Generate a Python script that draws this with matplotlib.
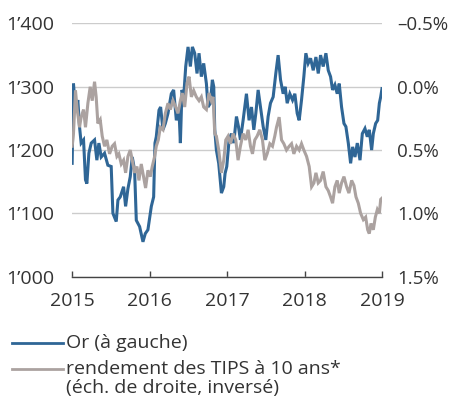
import matplotlib.pyplot as plt
from matplotlib.lines import Line2D
from matplotlib.ticker import FuncFormatter

# Gold price (USD/oz), left axis
gold_t = [2015.000, 2015.017, 2015.043, 2015.073, 2015.095, 2015.116, 2015.147, 2015.172,
          2015.190, 2015.216, 2015.246, 2015.289, 2015.319, 2015.345, 2015.375, 2015.418,
          2015.461, 2015.504, 2015.526, 2015.569, 2015.591, 2015.621, 2015.664, 2015.690,
          2015.720, 2015.750, 2015.776, 2015.806, 2015.828, 2015.871, 2015.914, 2015.944,
          2015.978, 2016.022, 2016.052, 2016.069, 2016.086, 2016.121, 2016.142, 2016.172,
          2016.203, 2016.237, 2016.280, 2016.310, 2016.345, 2016.379, 2016.397, 2016.418,
          2016.440, 2016.466, 2016.496, 2016.526, 2016.552, 2016.582, 2016.612, 2016.638,
          2016.668, 2016.698, 2016.733, 2016.754, 2016.784, 2016.810, 2016.828, 2016.841,
          2016.862, 2016.892, 2016.927, 2016.957, 2016.974, 2016.996, 2017.026, 2017.056,
          2017.086, 2017.121, 2017.147, 2017.172, 2017.207, 2017.250, 2017.284, 2017.315,
          2017.345, 2017.371, 2017.401, 2017.431, 2017.466, 2017.500, 2017.530, 2017.560,
          2017.595, 2017.629, 2017.659, 2017.690, 2017.724, 2017.750, 2017.776, 2017.810,
          2017.845, 2017.875, 2017.905, 2017.931, 2017.961, 2017.991, 2018.017, 2018.047,
          2018.078, 2018.112, 2018.147, 2018.177, 2018.207, 2018.241, 2018.276, 2018.306,
          2018.336, 2018.362, 2018.392, 2018.422, 2018.448, 2018.478, 2018.509, 2018.534,
          2018.565, 2018.595, 2018.621, 2018.651, 2018.681, 2018.716, 2018.746, 2018.780,
          2018.810, 2018.836, 2018.866, 2018.888, 2018.918, 2018.944, 2018.966, 2018.983,
          2019.000]
gold = [1179, 1305, 1263, 1279, 1237, 1211, 1216, 1153,
        1147, 1195, 1211, 1216, 1184, 1211, 1189, 1195,
        1176, 1174, 1100, 1087, 1121, 1126, 1142, 1111,
        1139, 1158, 1189, 1168, 1089, 1079, 1055, 1068,
        1074, 1111, 1126, 1211, 1221, 1263, 1268, 1232,
        1242, 1258, 1289, 1295, 1247, 1263, 1211, 1295,
        1284, 1332, 1363, 1332, 1363, 1353, 1321, 1353,
        1316, 1337, 1305, 1268, 1274, 1311, 1300, 1232,
        1200, 1179, 1132, 1142, 1163, 1174, 1216, 1226,
        1211, 1253, 1237, 1216, 1247, 1289, 1247, 1268,
        1232, 1258, 1295, 1268, 1237, 1216, 1253, 1274,
        1284, 1321, 1350, 1311, 1289, 1300, 1274, 1289,
        1279, 1289, 1258, 1247, 1279, 1316, 1353, 1337,
        1345, 1326, 1347, 1321, 1350, 1332, 1353, 1326,
        1316, 1295, 1303, 1289, 1305, 1268, 1242, 1237,
        1211, 1179, 1205, 1189, 1211, 1184, 1226, 1234,
        1221, 1232, 1200, 1226, 1242, 1247, 1274, 1284,
        1297]

# 10-year TIPS yield (%), right axis, inverted
tips_t = [2015.000, 2015.017, 2015.043, 2015.065, 2015.095, 2015.116, 2015.147, 2015.172,
          2015.203, 2015.233, 2015.259, 2015.289, 2015.310, 2015.332, 2015.362, 2015.388,
          2015.418, 2015.448, 2015.483, 2015.517, 2015.547, 2015.578, 2015.603, 2015.634,
          2015.664, 2015.690, 2015.720, 2015.750, 2015.776, 2015.806, 2015.836, 2015.862,
          2015.892, 2015.922, 2015.948, 2015.978, 2016.009, 2016.034, 2016.065, 2016.086,
          2016.112, 2016.138, 2016.172, 2016.203, 2016.237, 2016.267, 2016.302, 2016.336,
          2016.366, 2016.397, 2016.422, 2016.453, 2016.483, 2016.509, 2016.539, 2016.569,
          2016.603, 2016.638, 2016.668, 2016.698, 2016.733, 2016.767, 2016.797, 2016.819,
          2016.841, 2016.862, 2016.892, 2016.927, 2016.957, 2016.983, 2017.013, 2017.043,
          2017.078, 2017.112, 2017.142, 2017.172, 2017.207, 2017.241, 2017.272, 2017.302,
          2017.328, 2017.358, 2017.388, 2017.422, 2017.457, 2017.487, 2017.517, 2017.552,
          2017.586, 2017.616, 2017.638, 2017.672, 2017.703, 2017.733, 2017.767, 2017.802,
          2017.832, 2017.862, 2017.897, 2017.931, 2017.961, 2017.991, 2018.026, 2018.060,
          2018.091, 2018.121, 2018.147, 2018.177, 2018.207, 2018.241, 2018.276, 2018.306,
          2018.336, 2018.362, 2018.392, 2018.422, 2018.448, 2018.478, 2018.509, 2018.543,
          2018.573, 2018.608, 2018.638, 2018.664, 2018.694, 2018.724, 2018.759, 2018.789,
          2018.815, 2018.836, 2018.858, 2018.888, 2018.914, 2018.940, 2018.966, 2018.983,
          2019.000]
tips = [0.47, 0.37, 0.03, 0.18, 0.32, 0.24, 0.18, 0.32,
        0.13, 0.00, 0.11, -0.04, 0.08, 0.29, 0.26, 0.39,
        0.47, 0.42, 0.53, 0.47, 0.45, 0.55, 0.53, 0.61,
        0.58, 0.68, 0.55, 0.50, 0.58, 0.68, 0.63, 0.74,
        0.61, 0.71, 0.80, 0.66, 0.71, 0.63, 0.55, 0.47,
        0.42, 0.32, 0.34, 0.21, 0.13, 0.18, 0.11, 0.16,
        0.21, 0.11, 0.05, 0.16, -0.03, -0.08, 0.08, 0.03,
        0.08, 0.11, 0.08, 0.16, 0.18, 0.05, 0.11, 0.08,
        0.37, 0.39, 0.50, 0.68, 0.58, 0.42, 0.39, 0.45,
        0.37, 0.42, 0.58, 0.47, 0.37, 0.42, 0.34, 0.47,
        0.53, 0.42, 0.39, 0.34, 0.42, 0.58, 0.53, 0.45,
        0.47, 0.39, 0.32, 0.24, 0.42, 0.45, 0.50, 0.47,
        0.45, 0.53, 0.47, 0.50, 0.45, 0.50, 0.55, 0.63,
        0.79, 0.76, 0.68, 0.76, 0.74, 0.67, 0.79, 0.82,
        0.87, 0.92, 0.79, 0.74, 0.84, 0.76, 0.71, 0.79,
        0.84, 0.74, 0.78, 0.87, 0.92, 1.00, 1.05, 1.03,
        1.13, 1.16, 1.08, 1.13, 1.03, 0.97, 1.00, 0.89,
        0.88]

years = [2015, 2016, 2017, 2018, 2019]
gold_ticks = [1000, 1100, 1200, 1300, 1400]
tips_ticks = [-0.5, 0.0, 0.5, 1.0, 1.5]

blue = "#2f6696"
grey = "#aba2a0"
txt = "#333333"

plt.rcParams["font.family"] = ["Open Sans", "DejaVu Sans"]
plt.rcParams["font.size"] = 14

fig = plt.figure(figsize=(4.51, 4.05), dpi=100)
ax = fig.add_axes([0.16, 0.317, 0.687, 0.625])
ax2 = ax.twinx()

ax.plot(gold_t, gold, color=blue, lw=2.2, solid_joinstyle="miter")
ax2.plot(tips_t, tips, color=grey, lw=2.2, solid_joinstyle="miter")

ax.set_xlim(2015, 2019)
ax.set_ylim(1000, 1400)
ax2.set_ylim(1.5, -0.5)

ax.set_xticks(years)
ax.set_yticks(gold_ticks)
ax2.set_yticks(tips_ticks)
ax.yaxis.set_major_formatter(FuncFormatter(lambda v, p: f"{int(v) // 1000}\u2019{int(v) % 1000:03d}"))
ax2.yaxis.set_major_formatter(FuncFormatter(lambda v, p: f"{v:.1f}%".replace("-", "\u2013")))

for a in (ax, ax2):
    for s in a.spines.values():
        s.set_visible(False)
ax.spines["bottom"].set_visible(True)
ax.spines["bottom"].set_color("#444444")
ax.spines["bottom"].set_linewidth(1.0)

ax.grid(axis="y", color="#cccccc", lw=1.0)
ax.set_axisbelow(True)
ax.tick_params(axis="y", length=0, pad=13, colors=txt, labelsize=14)
ax2.tick_params(axis="y", length=0, pad=11, colors=txt, labelsize=13.5)
ax.tick_params(axis="x", direction="in", length=4, width=1.0, color="#444444",
               pad=11, labelcolor=txt, labelsize=14)

# legend drawn by hand: line aligned with first text row
fig.add_artist(Line2D([0.027, 0.140], [0.153, 0.153], color=blue, lw=2.0))
fig.add_artist(Line2D([0.027, 0.140], [0.089, 0.089], color=grey, lw=2.0))
fig.text(0.147, 0.153, "Or (à gauche)", va="center", ha="left", color=txt, fontsize=14)
fig.text(0.147, 0.089, "rendement des TIPS à 10 ans*", va="center", ha="left", color=txt, fontsize=14)
fig.text(0.147, 0.043, "(éch. de droite, inversé)", va="center", ha="left", color=txt, fontsize=14)

fig.savefig("out.png", dpi=100)
